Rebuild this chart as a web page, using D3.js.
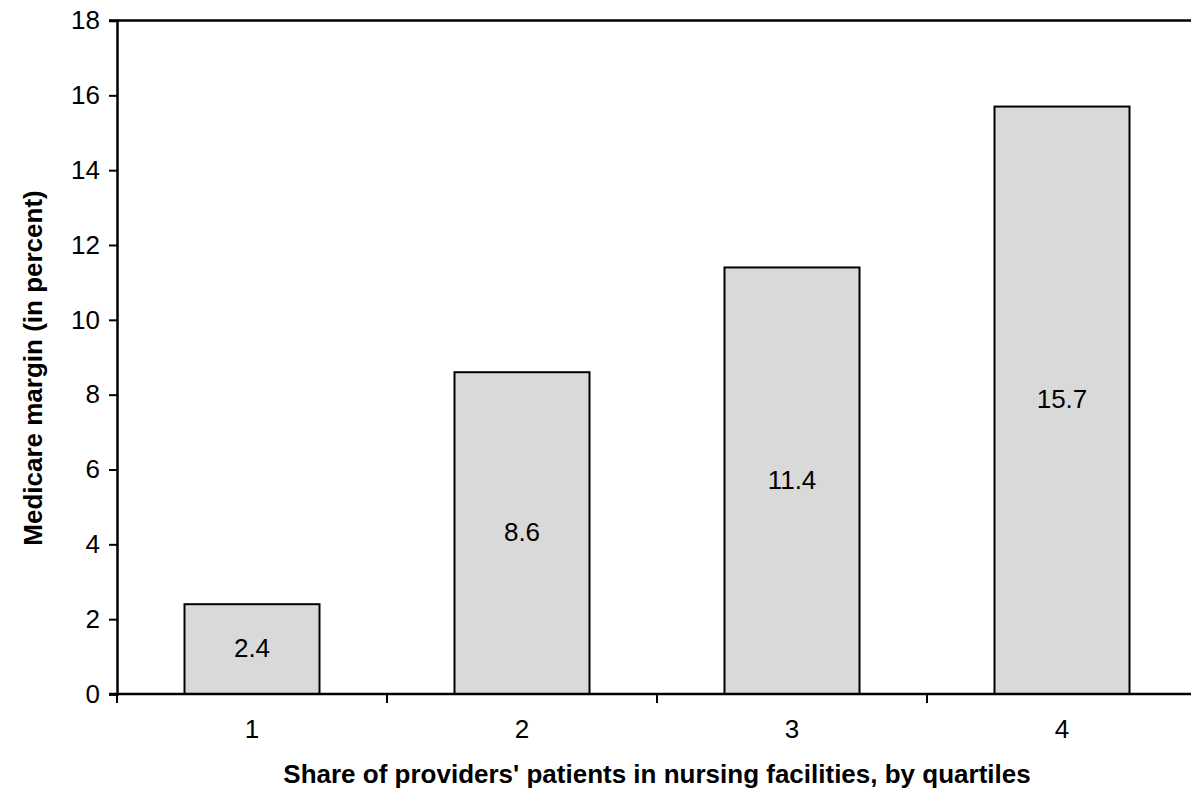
<!DOCTYPE html>
<html>
<head>
<meta charset="utf-8">
<script src="https://cdn.jsdelivr.net/npm/d3@7"></script>
<style>
  html, body { margin: 0; padding: 0; background: #fff; }
  svg { display: block; font-family: "Liberation Sans", Arial, sans-serif; }
</style>
</head>
<body>
<svg id="chart" width="1191" height="795"></svg>
<script>
// Medicare margin by quartile of providers' nursing-facility patient share
const quartiles = ["1", "2", "3", "4"];
const margins = [2.4, 8.6, 11.4, 15.7];
const yTicks = [0, 2, 4, 6, 8, 10, 12, 14, 16, 18];

const width = 1191, height = 795;
const margin = { left: 117, right: -6, top: 20, bottom: 101 };
const fontSize = 26;

const svg = d3.select("#chart");

const x = d3.scaleBand()
  .domain(quartiles)
  .range([margin.left, width - margin.right])
  .paddingInner(0.5)
  .paddingOuter(0.25);

const y = d3.scaleLinear()
  .domain([0, 18])
  .range([height - margin.bottom, margin.top + 0.5]);

const plotBottom = y(0);

// bars
svg.append("g").selectAll("rect")
  .data(margins)
  .join("rect")
  .attr("x", (d, i) => x(quartiles[i]))
  .attr("y", d => y(d))
  .attr("width", x.bandwidth())
  .attr("height", d => plotBottom - y(d))
  .attr("fill", "#d9d9d9")
  .attr("stroke", "#000")
  .attr("stroke-width", 2);

// value labels inside bars
svg.append("g").selectAll("text")
  .data(margins)
  .join("text")
  .attr("x", (d, i) => x(quartiles[i]) + x.bandwidth() / 2)
  .attr("y", d => (y(d) + plotBottom) / 2 + 1)
  .attr("text-anchor", "middle")
  .attr("dominant-baseline", "middle")
  .attr("font-size", fontSize)
  .attr("fill", "#000")
  .text(d => d.toFixed(1));

// y axis
const yAxis = svg.append("g")
  .attr("transform", `translate(${margin.left},0)`)
  .call(d3.axisLeft(y).tickValues(yTicks).tickSize(8).tickPadding(9).tickFormat(d3.format("d")));
yAxis.select(".domain").attr("stroke-width", 2.5);
yAxis.selectAll(".tick line").attr("stroke-width", 2);
yAxis.selectAll(".tick text")
  .attr("font-size", fontSize)
  .attr("font-family", "Liberation Sans, Arial, sans-serif")
  .attr("fill", "#000");

// top border line
svg.append("line")
  .attr("x1", margin.left - 8).attr("x2", width)
  .attr("y1", y(18)).attr("y2", y(18))
  .attr("stroke", "#000").attr("stroke-width", 2.5);

// x axis with ticks between categories
const boundaries = d3.range(quartiles.length + 1).map(i => margin.left + i * x.step());
const xAxisG = svg.append("g");
xAxisG.append("line")
  .attr("x1", margin.left - 8).attr("x2", width)
  .attr("y1", plotBottom).attr("y2", plotBottom)
  .attr("stroke", "#000").attr("stroke-width", 2.5);
xAxisG.selectAll("line.tick")
  .data(boundaries)
  .join("line")
  .attr("class", "tick")
  .attr("x1", d => d).attr("x2", d => d)
  .attr("y1", plotBottom).attr("y2", plotBottom + 9)
  .attr("stroke", "#000").attr("stroke-width", 2);
xAxisG.selectAll("text")
  .data(quartiles)
  .join("text")
  .attr("x", d => x(d) + x.bandwidth() / 2)
  .attr("y", plotBottom + 44)
  .attr("text-anchor", "middle")
  .attr("font-size", fontSize)
  .attr("fill", "#000")
  .text(d => d);

// axis titles
svg.append("text")
  .attr("x", (margin.left + width - margin.right) / 2)
  .attr("y", 783)
  .attr("text-anchor", "middle")
  .attr("font-size", fontSize)
  .attr("font-weight", "bold")
  .text("Share of providers' patients in nursing facilities, by quartiles");

svg.append("text")
  .attr("transform", `translate(42,368) rotate(-90)`)
  .attr("text-anchor", "middle")
  .attr("font-size", fontSize)
  .attr("font-weight", "bold")
  .text("Medicare margin (in percent)");
</script>
</body>
</html>
